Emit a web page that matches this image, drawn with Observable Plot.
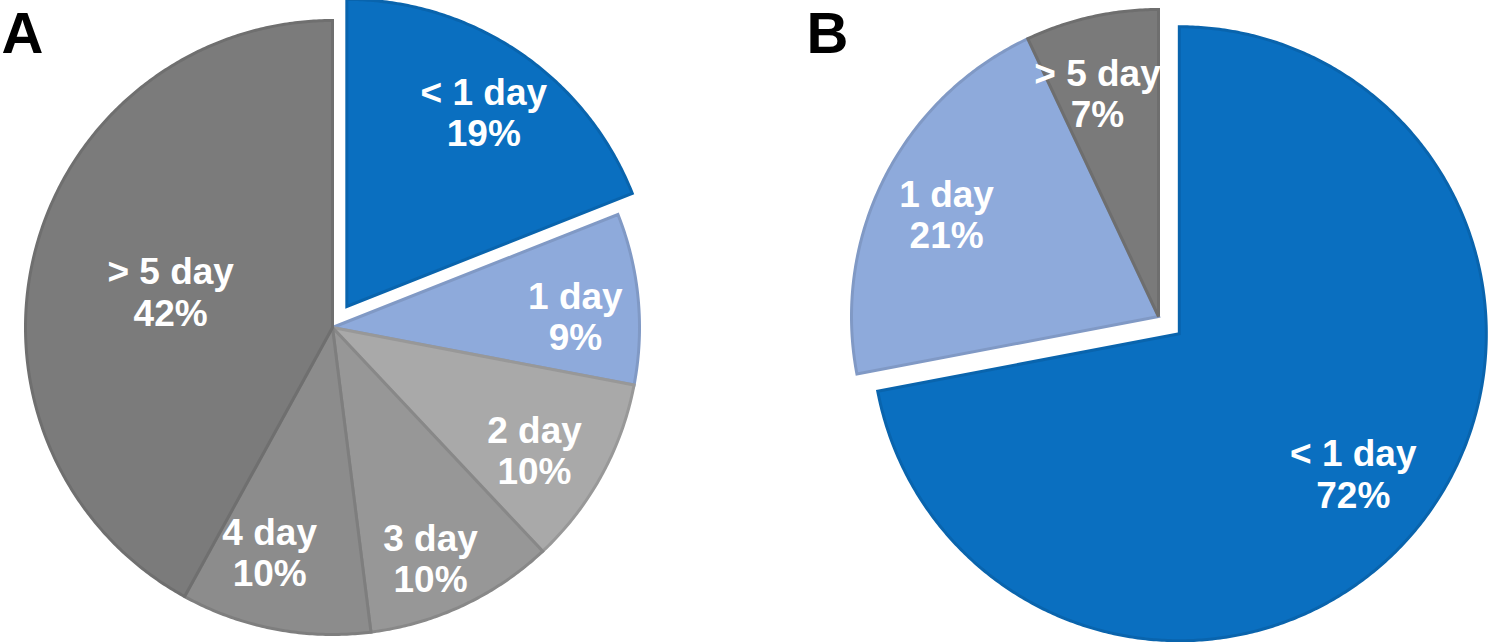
<!DOCTYPE html>
<html>
<head>
<meta charset="utf-8">
<script src="https://cdn.jsdelivr.net/npm/d3@7"></script>
<script src="https://cdn.jsdelivr.net/npm/@observablehq/plot@0.6"></script>
<style>
  html, body { margin: 0; padding: 0; background: #ffffff; }
  #chart { width: 1489px; height: 642px; overflow: hidden; }
</style>
</head>
<body>
<div id="chart"></div>
<script>
// ---- Data ----
const categoriesA = ["< 1 day", "1 day", "2 day", "3 day", "4 day", "> 5 day"];
const valuesA = [19, 9, 10, 10, 10, 42];
const categoriesB = ["< 1 day", "1 day", "> 5 day"];
const valuesB = [72, 21, 7];
const panelLabels = ["A", "B"];

// ---- Styles / layout (kept apart from the data) ----
const colorsA = ["#0a6fc0", "#8eaadb", "#a9a9a9", "#979797", "#8c8c8c", "#7b7b7b"];
const colorsB = ["#0a6fc0", "#8eaadb", "#7a7a7a"];
const W = 1489, H = 642;
const K = 307;                 // pixels per unit radius
const centerA = [332, 327];    // pixel centre of pie A
const centerB = [1158, 316];   // pixel centre of pie B
const explodeA = {"< 1 day": 0.083};
const explodeB = {"< 1 day": 0.088};
// label placement: radius (fraction of pie radius) and small angle nudge (degrees)
const labelA = {
  "< 1 day": {r: 0.774, da: 1},
  "1 day": {r: 0.792, da: 2.8},
  "2 day": {r: 0.770, da: 2.5},
  "3 day": {r: 0.817, da: 2.2},
  "4 day": {r: 0.761, da: 4.8},
  "> 5 day": {r: 0.54, da: -1.9}
};
const labelB = {
  "< 1 day": {r: 0.727, da: -0.8},
  "1 day": {r: 0.766, da: -1.3},
  "> 5 day": {r: 0.753, da: -2.7}
};

// unit coordinates (y up), origin at centre of pie A
const toUnit = ([px, py]) => [(px - centerA[0]) / K, (centerA[1] - py) / K];

function buildPie(cats, vals, colors, center, explode, labelPos) {
  const [cx, cy] = toUnit(center);
  const total = d3.sum(vals);
  let acc = 0;
  const slices = [], labels = [];
  cats.forEach((c, i) => {
    const a0 = acc / total * 2 * Math.PI;
    acc += vals[i];
    const a1 = acc / total * 2 * Math.PI;
    const mid = (a0 + a1) / 2;
    const ex = explode[c] || 0;
    const ox = cx + ex * Math.sin(mid), oy = cy + ex * Math.cos(mid);
    const n = Math.max(2, Math.ceil((a1 - a0) / (Math.PI / 360)));
    const pts = [{x: ox, y: oy}];
    for (let k = 0; k <= n; k++) {
      const a = a0 + (a1 - a0) * k / n;
      pts.push({x: ox + Math.sin(a), y: oy + Math.cos(a)});
    }
    slices.push({pts, color: colors[i]});
    const lp = labelPos[c] || {r: 0.76, da: 0};
    const la = mid + lp.da * Math.PI / 180;
    labels.push({x: ox + lp.r * Math.sin(la), y: oy + lp.r * Math.cos(la), text: `${c}\n${vals[i]}%`});
  });
  return {slices, labels};
}

const pieA = buildPie(categoriesA, valuesA, colorsA, centerA, explodeA, labelA);
const pieB = buildPie(categoriesB, valuesB, colorsB, centerB, explodeB, labelB);

const sliceMarks = [...pieA.slices, ...pieB.slices].map(s =>
  Plot.line(s.pts, {
    x: "x", y: "y",
    curve: "linear-closed",
    fill: s.color,
    stroke: d3.color(s.color).darker(0.3).formatHex(),
    strokeWidth: 3,
    strokeLinejoin: "miter",
    strokeMiterlimit: 4
  })
);

const font = "'Liberation Sans', Arial, Helvetica, sans-serif";

const chart = Plot.plot({
  width: W,
  height: H,
  margin: 0,
  x: {domain: [-centerA[0] / K, (W - centerA[0]) / K], axis: null},
  y: {domain: [-(H - centerA[1]) / K, centerA[1] / K], axis: null},
  style: {background: "white", fontFamily: font},
  marks: [
    ...sliceMarks,
    Plot.text([...pieA.labels, ...pieB.labels], {
      x: "x", y: "y", text: "text",
      fill: "white",
      fontSize: 37,
      fontWeight: "bold",
      lineHeight: 1.12,
      fontFamily: font
    }),
    Plot.text([panelLabels[0]], {
      frameAnchor: "top-left", textAnchor: "start", lineAnchor: "top",
      dx: 1, dy: 11, fontSize: 58, fontWeight: "bold", fill: "black", fontFamily: font
    }),
    Plot.text([panelLabels[1]], {
      frameAnchor: "top-left", textAnchor: "start", lineAnchor: "top",
      dx: 806, dy: 11, fontSize: 58, fontWeight: "bold", fill: "black", fontFamily: font
    })
  ]
});

document.getElementById("chart").appendChild(chart);
</script>
</body>
</html>
